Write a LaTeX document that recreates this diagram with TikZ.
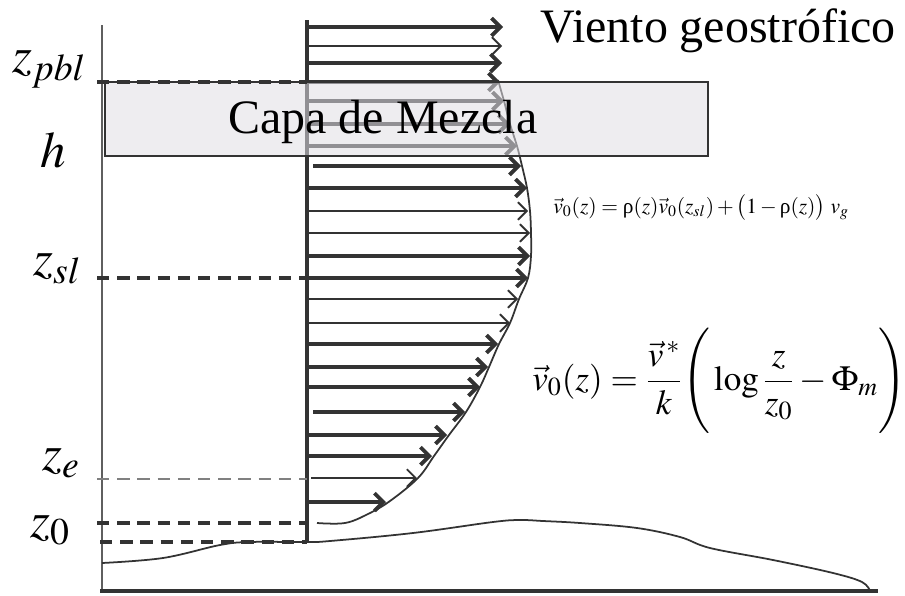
\documentclass[tikz,border=0pt]{standalone}
\usepackage{mathptmx}
\usepackage[no-math]{fontspec}
\setmainfont{Liberation Serif}
\usepackage{amsmath}
\usepackage{tikz}
\usetikzlibrary{arrows.meta}
\definecolor{mydark}{RGB}{51,51,51}
\definecolor{mygray}{RGB}{95,95,95}
\definecolor{hdrbox}{RGB}{224,222,228}
\tikzset{
  windvec/.style={-{Straight Barb[length=5pt,width=10pt]}, color=mydark, line width=2.2pt},
  thinvec/.style={windvec, line width=1.1pt},
  level/.style={dash pattern=on 7pt off 4.5pt, color=mydark, line width=2pt},
  thinlevel/.style={dash pattern=on 7pt off 4.5pt, color=gray, line width=0.6pt},
  zlabel/.style={font=\fontsize{29}{34}\selectfont, anchor=base west, inner sep=0pt},
  curve/.style={color=mydark, line width=1pt}
}

\begin{document}
\begin{tikzpicture}[x=0.02cm, y=-0.02cm]
  \useasboundingbox (0,0) rectangle (905,595);
  \draw[mygray, line width=1.1pt] (102,25) -- (102,591);
  \draw[mydark, line width=2pt] (100,591) -- (878,591);
  \draw[mydark, line width=2pt] (307,20) -- (307,542);
  \foreach \yy/\xx/\xs/\st in {27/503/307/windvec, 46/502/307/thinvec, 63/502/307/windvec,
      82/500/307/windvec, 101/504/307/windvec, 124/510/307/windvec, 146/517/307/windvec,
      166/521/313/windvec, 188/527/307/windvec, 211/528/307/thinvec, 233/530/307/thinvec,
      256/530/307/windvec, 278/528/307/windvec, 299/518/307/thinvec, 323/510/307/thinvec,
      344/498/307/windvec, 367/488/307/windvec, 387/480/307/windvec, 412/465/313/windvec,
      435/447/307/windvec, 456/432/307/windvec, 478/417/311/thinvec, 502/386/307/windvec}
    \draw[\st] (\xs,\yy) -- (\xx,\yy);
  \draw[curve] plot[smooth, tension=0.6] coordinates {(498,80) (504,101) (510,124) (517,146)
    (522,166) (527,188) (530,211) (531,233) (531,256) (528,278) (519,299) (510,323) (499,344)
    (489,367) (480,387) (466,412) (449,435) (434,456) (418,478) (390,501) (368,514) (345,523)
    (317,523)};
  \draw[curve] plot[smooth, tension=0.6] coordinates {(102,563) (163,558) (220,545) (250,542)
    (307,542) (330,541) (413,533) (493,522) (520,520) (543,521) (580,523) (637,528) (680,537)
    (710,548) (773,560) (833,573) (862,582) (870,591)};
  \draw[level] (97,278) -- (307,278);
  \draw[thinlevel] (97,479) -- (307,479);
  \draw[level] (97,523) -- (307,523);
  \draw[level] (100,542) -- (307,542);
  \fill[hdrbox, fill opacity=0.55] (105,82) rectangle (708,156);
  \draw[mydark, line width=1.2pt] (105,82) rectangle (708,156);
  \draw[level] (97,82) -- (307,82);
  \node[anchor=base west, inner sep=0pt, font=\fontsize{27.3}{32}\selectfont] (mezcla) at (228,133) {Capa de Mezcla};
  \node[anchor=base west, inner sep=0pt, font=\fontsize{27.3}{32}\selectfont] (geo) at (540,42) {Viento geostrófico};
  \node[zlabel] (zpbl) at (12,72) {$z_{pbl}$};
  \node[zlabel] (hlab) at (40,167) {$h$};
  \node[zlabel] (zsl) at (33,275) {$z_{sl}$};
  \node[zlabel] (ze) at (42,470) {$z_e$};
  \node[zlabel] (zzero) at (30,537) {$z_0$};
  \node[anchor=base west, inner sep=0pt, font=\fontsize{12.2}{14}\selectfont] (mix) at (553,213)
    {$\vec{v}_0(z)=\text{ρ}(z)\vec{v}_0(z_{sl})+\big(1-\text{ρ}(z)\big)\ v_g$};
  \node[anchor=base west, inner sep=0pt, font=\fontsize{20}{24}\selectfont] (log) at (532,390)
    {$\displaystyle \vec{v}_0(z)=\frac{\vec{v}^{\,*}}{k}\Bigg(\log\frac{z}{z_0}-\Phi_m\Bigg)$};
\end{tikzpicture}
\end{document}
